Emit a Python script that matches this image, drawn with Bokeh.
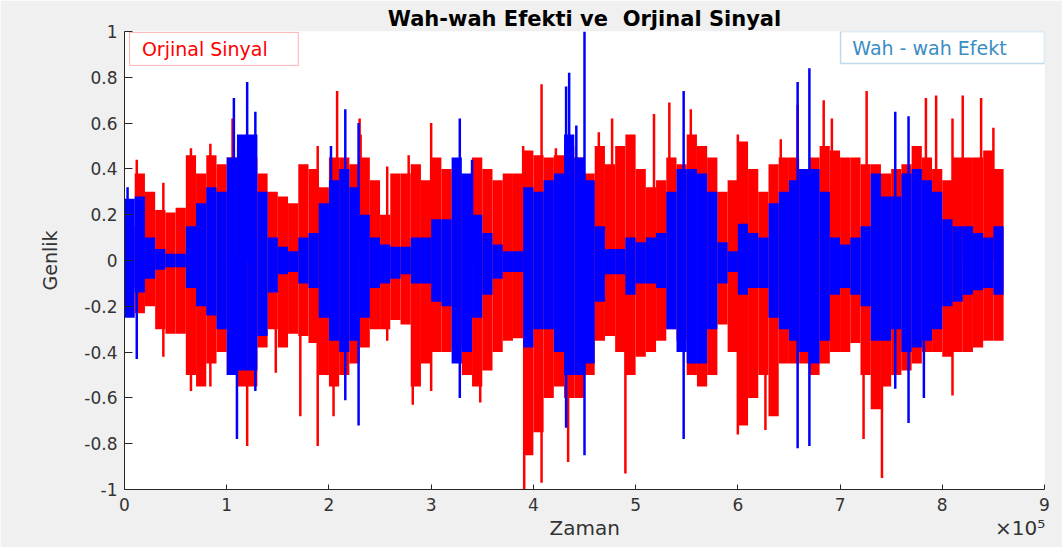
from bokeh.plotting import figure
from bokeh.models import Label, BoxAnnotation, FixedTicker, Range1d
from bokeh.embed import file_html
from bokeh.resources import INLINE

# x in units of 1e5 samples, bins of 1e4 samples
BIN = 0.1
red_upper = [0.15,0.38,0.30,0.22,0.21,0.23,0.46,0.38,0.46,0.42,
             0.45,0.50,0.45,0.38,0.30,0.28,0.25,0.42,0.40,0.32,
             0.45,0.45,0.42,0.45,0.35,0.20,0.38,0.38,0.42,0.35,
             0.45,0.40,0.38,0.35,0.45,0.40,0.35,0.38,0.38,0.48,
             0.46,0.45,0.46,0.50,0.45,0.38,0.50,0.42,0.50,0.55,
             0.40,0.32,0.35,0.45,0.42,0.55,0.50,0.45,0.30,0.35,
             0.52,0.40,0.30,0.42,0.45,0.45,0.40,0.45,0.50,0.48,
             0.45,0.45,0.42,0.42,0.38,0.40,0.42,0.50,0.45,0.40,
             0.35,0.45,0.45,0.45,0.48,0.40]
red_lower = [-0.12,-0.23,-0.20,-0.30,-0.32,-0.32,-0.50,-0.55,-0.45,-0.40,
             -0.50,-0.55,-0.55,-0.38,-0.30,-0.38,-0.32,-0.33,-0.36,-0.50,
             -0.55,-0.50,-0.45,-0.38,-0.30,-0.30,-0.26,-0.28,-0.55,-0.45,
             -0.40,-0.40,-0.38,-0.50,-0.55,-0.48,-0.40,-0.35,-0.34,-0.85,
             -0.75,-0.60,-0.55,-0.60,-0.60,-0.50,-0.35,-0.33,-0.40,-0.50,
             -0.42,-0.40,-0.35,-0.30,-0.35,-0.50,-0.55,-0.50,-0.28,-0.40,
             -0.72,-0.60,-0.50,-0.68,-0.45,-0.45,-0.45,-0.50,-0.45,-0.40,
             -0.40,-0.36,-0.50,-0.65,-0.55,-0.50,-0.48,-0.45,-0.40,-0.40,
             -0.42,-0.40,-0.40,-0.38,-0.35,-0.35]
blue_upper = [0.27,0.28,0.10,0.05,0.03,0.03,0.15,0.25,0.32,0.30,
              0.45,0.55,0.55,0.30,0.10,0.06,0.04,0.10,0.12,0.25,
              0.35,0.40,0.32,0.20,0.10,0.07,0.06,0.06,0.10,0.10,
              0.18,0.18,0.45,0.38,0.20,0.12,0.07,0.04,0.04,0.32,
              0.30,0.35,0.38,0.55,0.45,0.35,0.15,0.05,0.05,0.10,
              0.08,0.10,0.12,0.30,0.40,0.40,0.38,0.30,0.08,0.04,
              0.16,0.12,0.10,0.25,0.30,0.35,0.40,0.40,0.30,0.10,
              0.07,0.10,0.15,0.38,0.28,0.28,0.38,0.40,0.35,0.30,
              0.18,0.15,0.15,0.12,0.10,0.15]
blue_lower = [-0.25,-0.14,-0.08,-0.04,-0.03,-0.03,-0.12,-0.20,-0.24,-0.30,
              -0.50,-0.48,-0.48,-0.33,-0.14,-0.06,-0.05,-0.10,-0.12,-0.25,
              -0.35,-0.40,-0.35,-0.25,-0.12,-0.10,-0.08,-0.06,-0.10,-0.10,
              -0.18,-0.20,-0.45,-0.40,-0.25,-0.15,-0.08,-0.05,-0.05,-0.38,
              -0.30,-0.30,-0.40,-0.50,-0.50,-0.45,-0.18,-0.06,-0.06,-0.15,
              -0.10,-0.10,-0.12,-0.30,-0.40,-0.45,-0.45,-0.30,-0.10,-0.05,
              -0.15,-0.12,-0.12,-0.25,-0.30,-0.35,-0.40,-0.45,-0.35,-0.15,
              -0.12,-0.15,-0.20,-0.35,-0.35,-0.30,-0.40,-0.38,-0.35,-0.30,
              -0.20,-0.18,-0.15,-0.13,-0.12,-0.15]

# isolated peaks (x in 1e5 samples, amplitude)
red_spike_x = [0.12,0.38,0.38,0.65,0.65,0.84,0.84,1.057,1.20,1.48,1.72,1.89,1.89,2.045,2.08,
               2.30,2.31,2.57,2.57,2.78,2.82,3.00,3.00,3.48,3.90,3.91,4.08,4.08,4.22,4.34,
               4.64,4.77,4.90,5.18,5.33,5.54,6.00,6.00,6.27,6.42,6.585,6.84,6.92,
               7.23,7.26,7.41,7.84,7.94,8.10,8.10,8.20,8.38,8.50]
red_spike_y = [0.44,-0.42,0.34,0.49,-0.57,0.51,-0.55,0.62,-0.81,-0.49,-0.68,0.50,-0.81,-0.68,0.74,
               0.62,0.55,0.41,-0.35,0.46,-0.63,0.60,-0.57,-0.62,0.50,-1.00,0.77,-0.97,0.49,-0.88,
               0.56,0.62,-0.93,0.64,0.69,0.66,0.55,-0.76,-0.74,0.53,0.68,0.70,0.62,
               -0.78,0.74,-0.95,0.71,0.72,0.62,-0.59,0.72,0.71,0.58]
blue_spike_x = [0.03,0.12,1.07,1.10,1.20,1.28,1.28,2.02,2.16,2.16,2.29,2.29,3.28,3.28,3.40,
                4.32,4.32,4.35,4.42,4.50,4.50,5.47,5.47,6.585,6.585,6.70,6.70,
                7.54,7.54,7.67,7.67,7.82]
blue_spike_y = [0.32,-0.43,0.71,-0.78,0.78,0.65,-0.57,0.50,0.66,-0.61,0.60,-0.72,0.62,-0.60,0.44,
                0.76,-0.73,0.82,0.59,1.00,-0.85,0.74,-0.78,0.78,-0.82,0.84,-0.81,
                0.65,-0.56,0.63,-0.71,-0.60]

x_ticks = [0, 1, 2, 3, 4, 5, 6, 7, 8, 9]
y_ticks = [-1, -0.8, -0.6, -0.4, -0.2, 0, 0.2, 0.4, 0.6, 0.8, 1]

FONT = "DejaVu Sans"
TXT = "#333333"
NB = "\u00a0"

p = figure(width=1062, height=547, output_backend="svg", toolbar_location=None,
           x_range=Range1d(0, 9), y_range=Range1d(-1, 1),
           min_border_left=124, min_border_right=18, min_border_top=31, min_border_bottom=58)
p.border_fill_color = "#F0F0F0"
p.background_fill_color = "white"
p.outline_line_color = None
p.grid.visible = False

p.title.text = "Wah-wah Efekti ve " + NB + "Orjinal Sinyal"
p.title.align = "center"
p.title.text_font = FONT
p.title.text_font_style = "bold"
p.title.text_font_size = "21px"
p.title.text_color = "#000000"
p.title.standoff = 2

centers = [(i + 0.5) * BIN for i in range(len(red_upper))]
p.vbar(x=centers, width=BIN, top=red_upper, bottom=red_lower, color="#FF0000", line_width=0)
p.segment(x0=red_spike_x, y0=[0]*len(red_spike_x), x1=red_spike_x, y1=red_spike_y,
          line_color="#FF0000", line_width=2.5)
p.vbar(x=centers, width=BIN, top=blue_upper, bottom=blue_lower, color="#0000FF", line_width=0)
p.segment(x0=blue_spike_x, y0=[0]*len(blue_spike_x), x1=blue_spike_x, y1=blue_spike_y,
          line_color="#0000FF", line_width=2.5)

for ax in (p.xaxis[0], p.yaxis[0]):
    ax.axis_line_color = "#262626"
    ax.major_tick_line_color = "#262626"
    ax.minor_tick_line_color = None
    ax.major_tick_out = 0
    ax.major_label_text_font = FONT
    ax.major_label_text_font_size = "17px"
    ax.major_label_text_color = TXT
    ax.axis_label_text_font = FONT
    ax.axis_label_text_font_style = "normal"
    ax.axis_label_text_color = TXT

p.xaxis.ticker = FixedTicker(ticks=x_ticks)
p.xaxis.major_tick_in = 5
p.xaxis.major_label_standoff = 8
# "Zaman" centred under the axis, with the x10^5 exponent at the right end of the same line
p.xaxis.axis_label = NB * 67 + "Zaman" + NB * 59 + "\u00d710\u2075"
p.xaxis.axis_label_text_font_size = "20px"
p.xaxis.axis_label_standoff = 2

p.yaxis.ticker = FixedTicker(ticks=y_ticks)
p.yaxis.major_label_overrides = {-1: "-1", 0: "0", 1: "1", -0.8: "-0.8", -0.6: "-0.6",
                                 -0.4: "-0.4", -0.2: "-0.2", 0.2: "0.2", 0.4: "0.4",
                                 0.6: "0.6", 0.8: "0.8"}
p.yaxis.major_tick_in = 8
p.yaxis.major_label_standoff = 7
p.yaxis.axis_label = "Genlik"
p.yaxis.axis_label_text_font_size = "19px"
p.yaxis.axis_label_standoff = 20

# legend boxes
p.add_layout(BoxAnnotation(left=0.049, right=1.70, top=0.996, bottom=0.852,
                           fill_color="white", fill_alpha=1, line_color="#FF0000", line_width=1))
p.add_layout(Label(x=0.17, y=0.924, text="Orjinal Sinyal", text_baseline="middle",
                   text_font=FONT, text_font_size="19px", text_color="#FF0000"))
p.add_layout(BoxAnnotation(left=7.005, right=9.0, top=1.0, bottom=0.86,
                           fill_color="white", fill_alpha=1, line_color="#2E86C1", line_width=1.5))
p.add_layout(Label(x=7.12, y=0.93, text="Wah - wah Efekt", text_baseline="middle",
                   text_font=FONT, text_font_size="19px", text_color="#3A8DC3"))

open("out.html", "w").write(file_html(p, INLINE))
